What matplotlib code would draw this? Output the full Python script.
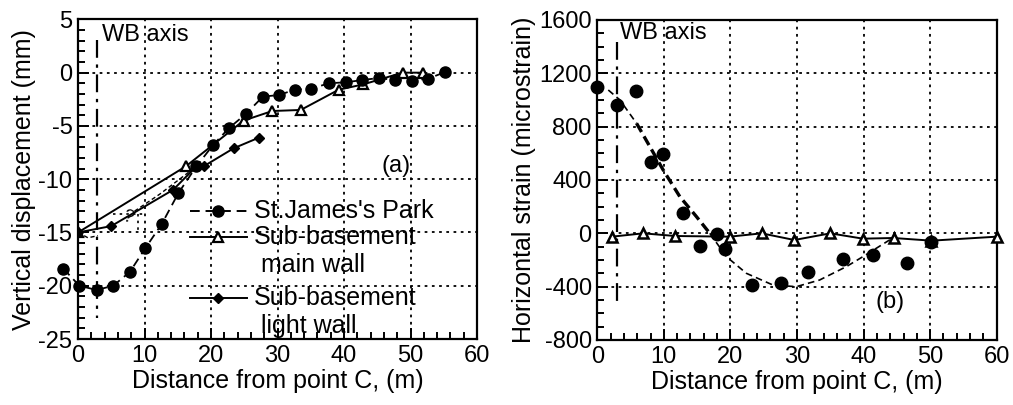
import matplotlib.pyplot as plt
from matplotlib.ticker import MultipleLocator

plt.rcParams["font.family"] = ["Liberation Sans", "DejaVu Sans"]
plt.rcParams["axes.unicode_minus"] = False

# (a) vertical displacement
sjp_x = [-2.2, 0.2, 2.8, 5.3, 7.8, 10.1, 12.6, 15.1, 17.8, 20.3, 22.7, 25.2, 27.8,
         30.2, 32.6, 35.1, 37.7, 40.3, 42.7, 45.2, 47.7, 50.2, 52.7, 55.2]
sjp_y = [-18.4, -20.0, -20.4, -20.0, -18.7, -16.5, -14.2, -11.3, -8.8, -6.8, -5.2, -3.9, -2.25,
         -2.1, -1.6, -1.5, -1.0, -0.9, -0.7, -0.5, -0.7, -0.75, -0.55, 0.05]
main_x = [0, 16.2, 24.9, 29.2, 33.5, 39.2, 42.9, 48.8, 51.9]
main_y = [-15.0, -8.8, -4.5, -3.6, -3.5, -1.6, -1.1, 0.0, 0.0]
light_x = [0, 5.0, 14.3, 17.8, 19.0, 23.4, 27.2]
light_y = [-15.0, -14.4, -11.0, -8.8, -8.75, -7.1, -6.1]
guess_a_x = [0, 1.5, 3.0]
guess_a_y = [-15.0, -15.5, -15.3]
guess_b_x = [8.5, 12.3, 17.8]
guess_b_y = [-13.0, -11.4, -8.8]

# (b) horizontal strain
strain_x = [0, 2.9, 5.8, 8.1, 9.9, 12.8, 15.4, 18.0, 19.2, 23.2, 27.6, 31.7, 36.9, 41.4, 46.5, 50.2]
strain_y = [1100, 965, 1070, 535, 595, 150, -95, -5, -120, -390, -375, -290, -190, -165, -225, -65]
wall_x = [2.2, 6.9, 11.7, 19.9, 24.7, 29.6, 35.0, 39.9, 44.5, 50.2, 60.0]
wall_y = [-25, 0, -20, -25, 0, -50, 0, -40, -35, -55, -25]
fit_thin1_x = [1.65, 3.4, 5.9]
fit_thin1_y = [1075, 1000, 825]
fit_thick_x = [5.9, 7.9, 9.9, 12.4, 14.9, 16.9]
fit_thick_y = [825, 650, 475, 275, 125, 0]
fit_thin2_x = [16.9, 19.4, 22.4, 26.4, 29.9, 33.4, 37.4, 39.9, 43.9, 44.4]
fit_thin2_y = [0, -175, -300, -388, -400, -350, -250, -175, -50, -25]

W, H = 1013, 405
fig = plt.figure(figsize=(W / 100, H / 100), dpi=100)
ax1 = fig.add_axes([78 / W, 1 - 339 / H, 399 / W, 319.6 / H])
ax2 = fig.add_axes([597.3 / W, 1 - 340 / H, 399.4 / W, 320 / H])

FS_TICK = 17
FS_LAB = 18


def style(ax):
    for s in ax.spines.values():
        s.set_linewidth(1.6)
    ax.tick_params(which="both", direction="in", width=1.4, labelsize=FS_TICK,
                   top=False, right=False, pad=4)
    ax.tick_params(which="major", length=8)
    ax.tick_params(which="minor", length=5)
    ax.grid(True, which="major", color="black", linestyle=(0, (1.5, 2.5)), linewidth=1.3)
    ax.set_axisbelow(True)


# panel (a)
ax1.plot(sjp_x, sjp_y, color="black", linestyle=(0, (5, 3)), linewidth=1.3,
         marker="o", markersize=8, markerfacecolor="black", clip_on=False, zorder=4)
ax1.plot(main_x, main_y, color="black", linewidth=1.4, marker="^", markersize=7,
         markerfacecolor="white", markeredgecolor="black", markeredgewidth=1.6, zorder=3)
ax1.plot(light_x, light_y, color="black", linewidth=1.4, marker="D", markersize=5.5,
         markerfacecolor="black", zorder=3)
ax1.plot(guess_a_x, guess_a_y, color="black", linestyle=(0, (3, 2)), linewidth=1.0)
ax1.plot(guess_b_x, guess_b_y, color="black", linestyle=(0, (3, 2)), linewidth=1.0)
ax1.plot([5.3, 9.8], [-13.3, -13.3], color="black", linestyle=(0, (1.5, 2.5)), linewidth=1.2)
ax1.plot([9.0, 9.0], [-13.3, -15.0], color="black", linestyle=(0, (1.5, 2.5)), linewidth=1.2)
ax1.text(7.4, -13.6, "?", fontsize=13, rotation=-20, ha="center", va="center")
ax1.plot([2.8, 2.8], [3.05, -23], color="black", linestyle=(0, (8, 3, 1.5, 3)), linewidth=1.6)
ax1.text(3.6, 3.5, "WB axis", fontsize=FS_TICK, ha="left", va="center")
ax1.text(47.9, -8.8, "(a)", fontsize=FS_TICK, ha="center", va="center")

ax1.set_xlim(0, 60)
ax1.set_ylim(-25, 5)
ax1.xaxis.set_major_locator(MultipleLocator(10))
ax1.xaxis.set_minor_locator(MultipleLocator(2))
ax1.yaxis.set_major_locator(MultipleLocator(5))
ax1.yaxis.set_minor_locator(MultipleLocator(1))
style(ax1)
ax1.set_xlabel("Distance from point C, (m)", fontsize=FS_LAB, labelpad=2)
ax1.set_ylabel("Vertical displacement (mm)", fontsize=FS_LAB, labelpad=2)

# legend drawn by hand, no frame
legend_rows = [
    (0.401, dict(linestyle=(0, (5, 3)), marker="o", markersize=8, markerfacecolor="black"),
     "St.James's Park", None),
    (0.318, dict(linestyle="-", marker="^", markersize=7, markerfacecolor="white",
                 markeredgewidth=1.6), "Sub-basement", " main wall"),
    (0.127, dict(linestyle="-", marker="D", markersize=5.5, markerfacecolor="black"),
     "Sub-basement", " light wall"),
]
for yy, kw, line1, line2 in legend_rows:
    ax1.plot([0.281, 0.423], [yy, yy], color="black", linewidth=1.4,
             transform=ax1.transAxes, clip_on=False, markevery=[], **kw)
    ax1.plot([0.35], [yy], color="black", transform=ax1.transAxes, clip_on=False,
             **{k: v for k, v in kw.items() if k != "linestyle"})
    ax1.text(0.44, yy, line1, fontsize=FS_LAB, transform=ax1.transAxes, ha="left", va="center")
    if line2:
        ax1.text(0.44, yy - 0.086, line2, fontsize=FS_LAB, transform=ax1.transAxes,
                 ha="left", va="center")

# panel (b)
ax2.plot(wall_x, wall_y, color="black", linewidth=1.4, marker="^", markersize=7.5,
         markerfacecolor="white", markeredgecolor="black", markeredgewidth=1.8,
         clip_on=False, zorder=3)
ax2.plot(fit_thin1_x, fit_thin1_y, color="black", linestyle=(0, (4, 2.5)), linewidth=1.2)
ax2.plot(fit_thick_x, fit_thick_y, color="black", linestyle=(0, (3, 1.5)), linewidth=2.4)
ax2.plot(fit_thin2_x, fit_thin2_y, color="black", linestyle=(0, (4, 2.5)), linewidth=1.2)
ax2.plot(strain_x, strain_y, linestyle="none", marker="o", markersize=9,
         color="black", clip_on=False, zorder=4)
ax2.plot([2.9, 2.9], [1437, -550], color="black", linestyle=(0, (8, 3, 1.5, 3)), linewidth=1.6)
ax2.text(3.4, 1500, "WB axis", fontsize=FS_TICK, ha="left", va="center")
ax2.text(44.0, -512, "(b)", fontsize=FS_TICK, ha="center", va="center")

ax2.set_xlim(0, 60)
ax2.set_ylim(-800, 1600)
ax2.xaxis.set_major_locator(MultipleLocator(10))
ax2.xaxis.set_minor_locator(MultipleLocator(2))
ax2.yaxis.set_major_locator(MultipleLocator(400))
ax2.yaxis.set_minor_locator(MultipleLocator(100))
style(ax2)
ax2.set_xlabel("Distance from point C, (m)", fontsize=FS_LAB, labelpad=2)
ax2.set_ylabel("Horizontal strain (microstrain)", fontsize=FS_LAB, labelpad=2)

fig.savefig("out.png", dpi=100)
